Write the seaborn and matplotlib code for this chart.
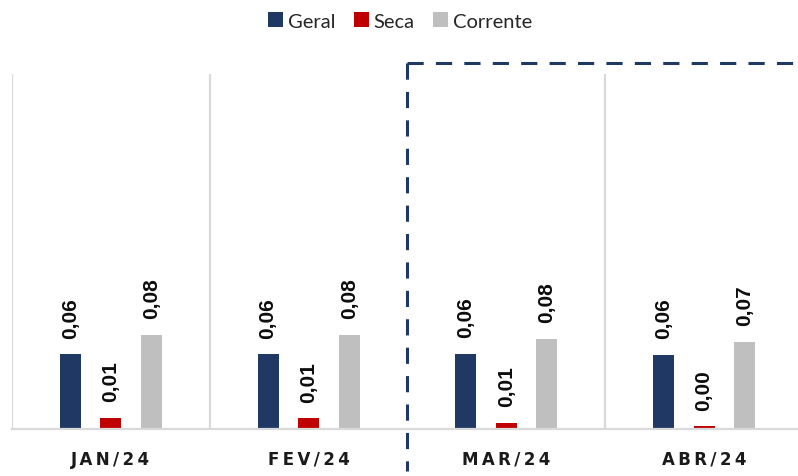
import matplotlib
matplotlib.use("Agg")
import matplotlib.pyplot as plt
import seaborn as sns
import pandas as pd
from matplotlib.lines import Line2D
from matplotlib.patches import Patch

months = ["JAN/24", "FEV/24", "MAR/24", "ABR/24"]
series = ["Geral", "Seca", "Corrente"]
geral = [0.0632, 0.0632, 0.0638, 0.0624]
seca = [0.0097, 0.0091, 0.0052, 0.0023]
corrente = [0.0797, 0.0797, 0.0761, 0.0738]
colors = ["#1F3864", "#C00000", "#BFBFBF"]

rows = []
for s, vals in zip(series, [geral, seca, corrente]):
    for m, v in zip(months, vals):
        rows.append({"mes": m, "serie": s, "valor": v})
df = pd.DataFrame(rows)

sns.set_theme(style="white")
plt.rcParams["font.family"] = ["DejaVu Sans"]

W, H = 798, 477
fig = plt.figure(figsize=(W / 100, H / 100), dpi=100)
ax = fig.add_axes([12 / W, 47 / H, 791 / W, 355 / H])

sns.barplot(data=df, x="mes", y="valor", hue="serie", order=months,
            hue_order=series, palette=colors, width=0.615, gap=0.48,
            legend=False, ax=ax, saturation=1, linewidth=0, edgecolor="none")

ax.set_xlim(-0.5, 3.5)
ax.set_ylim(0, 0.30)
ax.set_xlabel("")
ax.set_ylabel("")
ax.set_yticks([])
for sp in ["top", "left", "right"]:
    ax.spines[sp].set_visible(False)
ax.spines["bottom"].set_color("#D9D9D9")
ax.spines["bottom"].set_linewidth(1.6)
ax.tick_params(axis="x", length=0, pad=15)
ax.set_xticks(range(len(months)))
ax.set_xticklabels(["\u2009".join(list(m)) for m in months],
                   fontsize=12, fontweight="bold", color="#1a1a1a")

for xv in [-0.5, 0.5, 2.5, 3.5]:
    ax.axvline(xv, color="#D9D9D9", lw=1.6, zorder=0)

for cont in ax.containers:
    labels = [f"{b.get_height():.2f}".replace(".", ",") for b in cont]
    ax.bar_label(cont, labels=labels, rotation=90, padding=12,
                 fontsize=15, fontweight="bold", family="Liberation Sans",
                 color="#0d0d0d")

# dashed frame
dash_color = "#1F3864"
x0 = 407 / W
fig.add_artist(Line2D([x0, x0], [1 - 64 / H, 1 - 472 / H], transform=fig.transFigure,
                      color=dash_color, lw=2.2, linestyle=(0, (5.3, 4))))
fig.add_artist(Line2D([x0, 1.0], [1 - 64 / H, 1 - 64 / H], transform=fig.transFigure,
                      color=dash_color, lw=2.2, linestyle=(0, (5.3, 4))))

handles = [Patch(facecolor=c, edgecolor="none") for c in colors]
fig.legend(handles, series, loc="center", bbox_to_anchor=(400 / W, 1 - 22 / H),
           ncol=3, frameon=False, prop={"family": "Lato", "size": 14.5},
           handlelength=0.75, handleheight=0.75, handletextpad=0.25,
           columnspacing=0.9)

fig.savefig("out.png", dpi=100)
